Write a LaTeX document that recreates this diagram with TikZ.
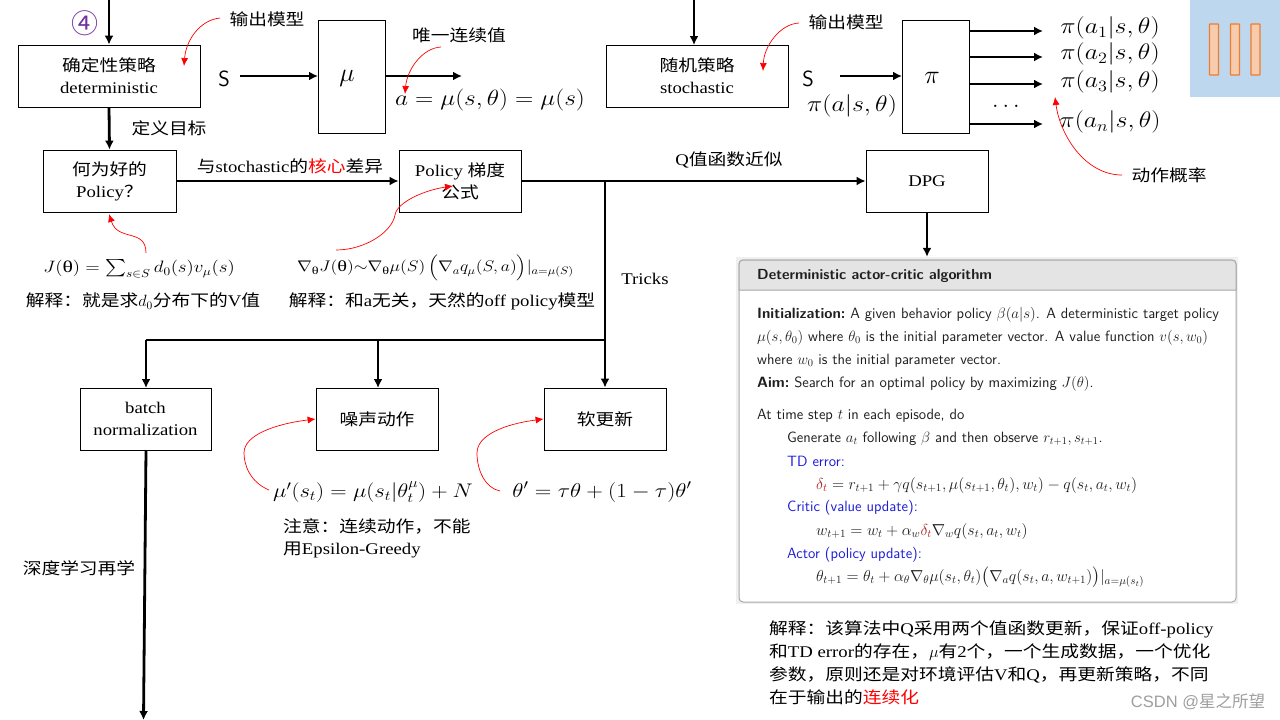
\documentclass[tikz,border=0pt]{standalone}
\usepackage{fix-cm}
\usepackage{amsmath}
\usepackage[no-math]{fontspec}
\setmainfont[FakeStretch=1.15]{Liberation Serif}
\newfontfamily\cjk[FakeStretch=1.15]{Noto Sans CJK SC}
\newfontfamily\cjkw{Noto Sans CJK SC}
\newfontfamily\wmark{Liberation Sans}
\newcommand{\cn}[1]{{\cjk #1}}
\newcommand{\fs}[1]{\fontsize{#1}{#1}\selectfont}
\newcommand{\wide}[1]{\scalebox{1.15}[1]{#1}}
\newcommand{\uth}{\text{θ}}
\usetikzlibrary{arrows.meta}
\definecolor{tabblue}{HTML}{BDD7EE}
\definecolor{barfill}{HTML}{F8CBAD}
\definecolor{barline}{HTML}{ED7D31}
\definecolor{panelbg}{HTML}{F0F0F0}
\definecolor{panelhd}{HTML}{E4E4E4}
\definecolor{panelln}{HTML}{A8A8A8}
\definecolor{algblue}{HTML}{1C1CD8}
\definecolor{algred}{HTML}{B02020}
\definecolor{circled}{HTML}{7030A0}
\tikzset{
  box/.style={draw, line width=.8pt, inner sep=0pt, align=center, font=\fontsize{16.3}{22}\selectfont},
  flow/.style={line width=2.8pt, -{Latex[length=9pt,width=9pt]}},
  plain/.style={line width=2.8pt},
  note/.style={red, line width=.7pt, -{Latex[length=8pt,width=7pt]}},
  txt/.style={inner sep=0pt, font=\fontsize{16.3}{22}\selectfont, align=left},
  alg/.style={inner sep=0pt, anchor=west, yshift=-1.5pt, text=black!88, font=\sffamily\fontsize{14.9}{18}\selectfont},
  algeq/.style={alg, font=\sffamily\fontsize{15.9}{18}\selectfont},
  bar/.style={draw=barline, fill=barfill, line width=1.2pt, rounded corners=.5pt, minimum width=9pt, minimum height=51pt, inner sep=0pt}
}
\begin{document}
\begin{tikzpicture}[x=1pt,y=-1pt]
\useasboundingbox (0,0) rectangle (1280,720);
\node[fill=tabblue, minimum width=90pt, minimum height=97pt, inner sep=0pt] (tab) at (1235,48.5){};
\node[bar] (bar0) at (1214,49.5){};
\node[bar] (bar1) at (1235,49.5){};
\node[bar] (bar2) at (1255.5,49.5){};
% boxes
\node[box, minimum width=182pt, minimum height=62pt] (det) at (109,76){\cn{确定性策略}\\deterministic};
\node[box, minimum width=67pt, minimum height=113pt] (mu) at (351.5,76.5){};
\node[box, minimum width=182pt, minimum height=62pt] (sto) at (697,76){\cn{随机策略}\\stochastic};
\node[box, minimum width=67pt, minimum height=113pt] (pi) at (935.5,76.5){};
\node[box, minimum width=133pt, minimum height=62pt] (good) at (109.5,181){\cn{何为好的}\\Policy\cn{？}};
\node[box, minimum width=122pt, minimum height=62pt] (pg) at (460,181){Policy \cn{梯度}\\\cn{公式}};
\node[box, minimum width=122pt, minimum height=62pt] (dpg) at (927,181){DPG};
\node[box, minimum width=131pt, minimum height=62pt] (batch) at (145.5,419){batch\\normalization};
\node[box, minimum width=122pt, minimum height=62pt] (noise) at (377,419){\cn{噪声动作}};
\node[box, minimum width=122pt, minimum height=62pt] (soft) at (605,419){\cn{软更新}};
% free ends and corners
\coordinate (topL) at (109,0);
\coordinate (topR) at (694,0);
\coordinate (stoin) at (694,45);
\coordinate (sL) at (240,76);
\coordinate (muL) at (318,76);
\coordinate (muR) at (385,76);
\coordinate (muout) at (462,76);
\coordinate (sR) at (840,76);
\coordinate (piL) at (902,76);
\coordinate (tricks) at (605,181);
\coordinate (split) at (605,340);
\coordinate (splitA) at (146,340);
\coordinate (splitB) at (378,340);
\coordinate (batchin) at (146,388);
\coordinate (noisein) at (378,388);
\coordinate (batchout) at (146,450);
\coordinate (deep) at (143.5,720);
\draw[flow](topL) -- (det.north);
\draw[flow](topR) -- (stoin);
\draw[flow](det.south) -- (good.north);
\draw[flow](sL) -- (muL);
\draw[flow](muR) -- (muout);
\draw[flow](sR) -- (piL);
\foreach \i/\y in {0/31,1/57,2/84,3/124}{
  \coordinate (pi\i) at (969,\y);
  \coordinate (out\i) at (1043,\y);
  \draw[flow](pi\i) -- (out\i);
}
\draw[flow](good.east) -- (pg.west);
\draw[flow](pg.east) -- (dpg.west);
\draw[flow](tricks) -- (soft.north);
\draw[plain](split) -- (splitA);
\draw[flow](splitA) -- (batchin);
\draw[flow](splitB) -- (noisein);
\draw[flow](batchout) -- (deep);
% labels
\node[inner sep=0pt, text=circled, font=\cjkw\fontsize{27}{27}\selectfont] (four) at (85,23){④};
\node[txt] (outL) at (267,19){\cn{输出模型}};
\node[txt] (only) at (459,35){\cn{唯一连续值}};
\node[inner sep=0pt, font=\sffamily\fontsize{22}{22}\selectfont] (sa) at (224,79){S};
\node[inner sep=0pt, font=\fs{26}] (mutxt) at (347,78){$\mu$};
\node[inner sep=0pt, font=\fs{22}] (aeq) at (490,100){\wide{$a=\mu(s,\theta)=\mu(s)$}};
\node[txt] (defgoal) at (169,128){\cn{定义目标}};
\node[txt] (core) at (290,166){\cn{与}stochastic\cn{的}\textcolor{red}{\cn{核心}}\cn{差异}};
\node[txt] (qval) at (729,160){Q\cn{值函数近似}};
\node[inner sep=0pt, font=\fs{16.5}] (jeq) at (139,269){\wide{$J(\uth)=\sum_{s\in S}d_0(s)v_\mu(s)$}};
\node[txt] (jnote) at (143,301){\cn{解释：就是求}$d_0$\cn{分布下的}V\cn{值}};
\node[inner sep=0pt, font=\fs{15.4}] (gradeq) at (435.5,268){\wide{$\nabla_{\uth}J(\uth)\mathord{\sim}\nabla_{\uth}\mu(S)\,\Bigl(\nabla_a q_\mu(S,a)\Bigr)|_{a=\mu(S)}$}};
\node[txt] (gradnote) at (442,301){\cn{解释：和}a\cn{无关，天然的}off policy\cn{模型}};
\node[txt] (trickstxt) at (645,279){Tricks};
\node[inner sep=0pt, font=\fs{19.7}] (noiseeq) at (373,492){\wide{$\mu'(s_t)=\mu(s_t|\theta_t^\mu)+N$}};
\node[inner sep=0pt, font=\fs{20}] (softeq) at (602,492){\wide{$\theta'=\tau\theta+(1-\tau)\theta'$}};
\node[txt, anchor=north west] (noisenote) at (283,518){\cn{注意：连续动作，不能}\\\cn{用}Epsilon-Greedy};
\node[txt] (dltxt) at (79,568){\cn{深度学习再学}};
\node[txt] (outR) at (846,22){\cn{输出模型}};
\node[inner sep=0pt, font=\sffamily\fontsize{22}{22}\selectfont] (sb) at (808,79){S};
\node[inner sep=0pt, font=\fs{22.5}] (piprob) at (852,106){\wide{$\pi(a|s,\theta)$}};
\node[inner sep=0pt, font=\fs{26}] (pitxt) at (932,78){$\pi$};
\node[inner sep=0pt, font=\fs{22.5}] (pa1) at (1110,28){\wide{$\pi(a_1|s,\theta)$}};
\node[inner sep=0pt, font=\fs{22.5}] (pa2) at (1110,54){\wide{$\pi(a_2|s,\theta)$}};
\node[inner sep=0pt, font=\fs{22.5}] (pa3) at (1110,82){\wide{$\pi(a_3|s,\theta)$}};
\node[inner sep=0pt, font=\fs{22.5}] (pan) at (1110,122){\wide{$\pi(a_n|s,\theta)$}};
\node[inner sep=0pt, font=\fs{24}] (dots) at (1008,106){$\dots$};
\node[txt] (prob) at (1169,175){\cn{动作概率}};
\node[txt, anchor=north west, font=\fontsize{16.3}{22.7}\selectfont] (algnote) at (769,621){\cn{解释：该算法中}Q\cn{采用两个值函数更新，保证}off-policy\\\cn{和}TD error\cn{的存在，}$\mu$\cn{有}2\cn{个，一个生成数据，一个优化}\\\cn{参数，原则还是对环境评估}V\cn{和}Q\cn{，再更新策略，不同}\\\cn{在于输出的}\textcolor{red}{\cn{连续化}}};
\node[inner sep=0pt, text=black!38, font=\fs{16.5}] (mark) at (1198,702){\wmark CSDN @{\cjkw 星之所望}};
% red curves
\coordinate (c0) at (220,18);
\coordinate (c1) at (184,66);
\coordinate (c2) at (441,47);
\coordinate (c3) at (405,94);
\coordinate (c4) at (146,253);
\coordinate (c5) at (109,214);
\coordinate (c6) at (336,250);
\coordinate (c7) at (453,186);
\coordinate (c8) at (799,23);
\coordinate (c9) at (763,71);
\coordinate (c10) at (1122,175);
\coordinate (c11) at (1055,97);
\coordinate (c12) at (269,490);
\coordinate (c13) at (500,491);
\draw[note](c0) .. controls (200,20) and (186,40) .. (c1);
\draw[note](c2) .. controls (422,48) and (407,70) .. (c3);
\draw[note](c4) .. controls (146,228) and (118,242) .. (c5);
\draw[note](c6) .. controls (365,250) and (392,232) .. (395,215) .. controls (397,202) and (425,190) .. (c7);
\draw[note](c8) .. controls (780,24) and (764,46) .. (c9);
\draw[note](c10) .. controls (1085,175) and (1060,135) .. (c11);
\draw[note](c12) .. controls (250,482) and (244,465) .. (244,453) .. controls (244,435) and (275,424) .. (noise.west);
\draw[note](c13) .. controls (485,488) and (477,470) .. (477,453) .. controls (477,435) and (505,424) .. (soft.west);
% algorithm panel
\node[fill=panelbg, minimum width=502pt, minimum height=347pt, inner sep=0pt] (panel) at (987,430.5){};
\draw[flow](dpg.south) -- (panel.north -| dpg.south);
\draw[panelln, line width=1pt, fill=white, rounded corners=4pt] (739,260) rectangle (1236,602);
\draw[panelln, line width=1pt, fill=panelhd] (739,290) [rounded corners=4pt] -- (739,260) -- (1236,260) [sharp corners] -- (1236,290) -- cycle;
\node[alg, font=\sffamily\fontsize{14.6}{18}\selectfont] (a0) at (757,274){\bfseries Deterministic actor-critic algorithm};
\node[alg] (a1) at (757,313){\bfseries Initialization:\mdseries\ A given behavior policy $\beta(a|s)$. A deterministic target policy};
\node[alg] (a2) at (757,336){$\mu(s,\theta_0)$ where $\theta_0$ is the initial parameter vector. A value function $v(s,w_0)$};
\node[alg] (a3) at (757,359){where $w_0$ is the initial parameter vector.};
\node[alg] (a4) at (757,382){\bfseries Aim:\mdseries\ Search for an optimal policy by maximizing $J(\theta)$.};
\node[alg] (a5) at (757,414){At time step $t$ in each episode, do};
\node[alg] (a6) at (787,437){Generate $a_t$ following $\beta$ and then observe $r_{t+1},s_{t+1}$.};
\node[alg, text=algblue] (a7) at (787,460){TD error:};
\node[algeq] (a8) at (816,484){$\textcolor{algred}{\delta_t}=r_{t+1}+\gamma q(s_{t+1},\mu(s_{t+1},\theta_t),w_t)-q(s_t,a_t,w_t)$};
\node[alg, text=algblue] (a9) at (787,506){Critic (value update):};
\node[algeq] (a10) at (816,530){$w_{t+1}=w_t+\alpha_w\textcolor{algred}{\delta_t}\nabla_w q(s_t,a_t,w_t)$};
\node[alg, text=algblue] (a11) at (787,553){Actor (policy update):};
\node[algeq] (a12) at (816,576){$\theta_{t+1}=\theta_t+\alpha_\theta\nabla_\theta\mu(s_t,\theta_t)\bigl(\nabla_a q(s_t,a,w_{t+1})\bigr)|_{a=\mu(s_t)}$};
\end{tikzpicture}
\end{document}
